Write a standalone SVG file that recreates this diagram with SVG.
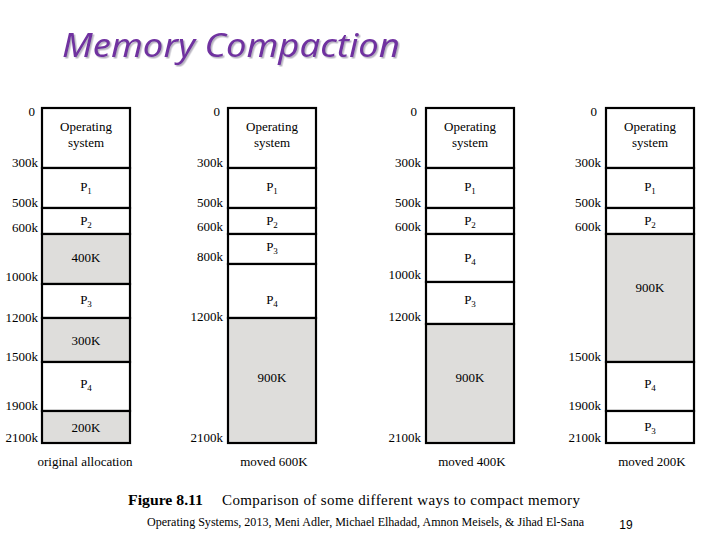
<svg xmlns="http://www.w3.org/2000/svg" width="720" height="540" viewBox="0 0 720 540">
<defs>
<filter id="shadow" x="-5%" y="-20%" width="110%" height="150%">
<feDropShadow dx="1.5" dy="1.5" stdDeviation="0.6" flood-color="#9a94a6" flood-opacity="0.7"/>
</filter>
</defs>
<style>
.t{font-family:"Liberation Serif","Times New Roman",serif;font-size:13px;fill:#000}
.m{text-anchor:middle}
.e{text-anchor:end}
.sub{font-size:9px}
.blk{stroke:#000;stroke-width:2.2;fill:#fff}
.free{stroke:#000;stroke-width:2.2;fill:#dedddb}
.title{font-family:"Noto Sans","Open Sans",sans-serif;font-style:italic;font-size:33px}
</style>
<rect width="720" height="540" fill="#fff"/>
<g id="title">
<text class="title" x="62" y="57" fill="#7030a0" filter="url(#shadow)" textLength="338" lengthAdjust="spacingAndGlyphs">Memory Compaction</text>
</g>

<!-- Column 1: original allocation -->
<g id="col1">
<g id="c1-os"><rect class="blk" x="42" y="108" width="88" height="60"/><text class="t m" x="86" y="131">Operating</text><text class="t m" x="86" y="147">system</text></g>
<g id="c1-p1"><rect class="blk" x="42" y="168" width="88" height="40"/><text class="t m" x="86" y="191">P<tspan class="sub" dy="3">1</tspan></text></g>
<g id="c1-p2"><rect class="blk" x="42" y="208" width="88" height="26"/><text class="t m" x="86" y="225">P<tspan class="sub" dy="3">2</tspan></text></g>
<g id="c1-h1"><rect class="free" x="42" y="234" width="88" height="50"/><text class="t m" x="86" y="262">400K</text></g>
<g id="c1-p3"><rect class="blk" x="42" y="284" width="88" height="34"/><text class="t m" x="86" y="304">P<tspan class="sub" dy="3">3</tspan></text></g>
<g id="c1-h2"><rect class="free" x="42" y="318" width="88" height="44"/><text class="t m" x="86" y="345">300K</text></g>
<g id="c1-p4"><rect class="blk" x="42" y="362" width="88" height="49"/><text class="t m" x="86" y="388">P<tspan class="sub" dy="3">4</tspan></text></g>
<g id="c1-h3"><rect class="free" x="42" y="411" width="88" height="32"/><text class="t m" x="86" y="432">200K</text></g>
<text class="t e" x="35" y="116">0</text>
<text class="t e" x="38" y="167">300k</text>
<text class="t e" x="38" y="207">500k</text>
<text class="t e" x="38" y="232">600k</text>
<text class="t e" x="38" y="281">1000k</text>
<text class="t e" x="38" y="322">1200k</text>
<text class="t e" x="38" y="361">1500k</text>
<text class="t e" x="38" y="410">1900k</text>
<text class="t e" x="38" y="442">2100k</text>
<text class="t m" x="85" y="466">original allocation</text>
</g>

<!-- Column 2: moved 600K -->
<g id="col2">
<g id="c2-os"><rect class="blk" x="228" y="108" width="88" height="60"/><text class="t m" x="272" y="131">Operating</text><text class="t m" x="272" y="147">system</text></g>
<g id="c2-p1"><rect class="blk" x="228" y="168" width="88" height="40"/><text class="t m" x="272" y="191">P<tspan class="sub" dy="3">1</tspan></text></g>
<g id="c2-p2"><rect class="blk" x="228" y="208" width="88" height="26"/><text class="t m" x="272" y="225">P<tspan class="sub" dy="3">2</tspan></text></g>
<g id="c2-p3"><rect class="blk" x="228" y="234" width="88" height="30"/><text class="t m" x="272" y="251">P<tspan class="sub" dy="3">3</tspan></text></g>
<g id="c2-p4"><rect class="blk" x="228" y="264" width="88" height="54"/><text class="t m" x="272" y="304">P<tspan class="sub" dy="3">4</tspan></text></g>
<g id="c2-h"><rect class="free" x="228" y="318" width="88" height="125"/><text class="t m" x="272" y="382">900K</text></g>
<text class="t e" x="220" y="116">0</text>
<text class="t e" x="223" y="167">300k</text>
<text class="t e" x="223" y="207">500k</text>
<text class="t e" x="223" y="231">600k</text>
<text class="t e" x="223" y="261">800k</text>
<text class="t e" x="223" y="321">1200k</text>
<text class="t e" x="223" y="442">2100k</text>
<text class="t m" x="274" y="466">moved 600K</text>
</g>

<!-- Column 3: moved 400K -->
<g id="col3">
<g id="c3-os"><rect class="blk" x="426" y="108" width="88" height="60"/><text class="t m" x="470" y="131">Operating</text><text class="t m" x="470" y="147">system</text></g>
<g id="c3-p1"><rect class="blk" x="426" y="168" width="88" height="40"/><text class="t m" x="470" y="191">P<tspan class="sub" dy="3">1</tspan></text></g>
<g id="c3-p2"><rect class="blk" x="426" y="208" width="88" height="26"/><text class="t m" x="470" y="225">P<tspan class="sub" dy="3">2</tspan></text></g>
<g id="c3-p4"><rect class="blk" x="426" y="234" width="88" height="48"/><text class="t m" x="470" y="262">P<tspan class="sub" dy="3">4</tspan></text></g>
<g id="c3-p3"><rect class="blk" x="426" y="282" width="88" height="42"/><text class="t m" x="470" y="304">P<tspan class="sub" dy="3">3</tspan></text></g>
<g id="c3-h"><rect class="free" x="426" y="324" width="88" height="119"/><text class="t m" x="470" y="382">900K</text></g>
<text class="t e" x="417" y="116">0</text>
<text class="t e" x="421" y="167">300k</text>
<text class="t e" x="421" y="207">500k</text>
<text class="t e" x="421" y="231">600k</text>
<text class="t e" x="421" y="279">1000k</text>
<text class="t e" x="421" y="321">1200k</text>
<text class="t e" x="421" y="442">2100k</text>
<text class="t m" x="472" y="466">moved 400K</text>
</g>

<!-- Column 4: moved 200K -->
<g id="col4">
<g id="c4-os"><rect class="blk" x="606" y="108" width="88" height="60"/><text class="t m" x="650" y="131">Operating</text><text class="t m" x="650" y="147">system</text></g>
<g id="c4-p1"><rect class="blk" x="606" y="168" width="88" height="40"/><text class="t m" x="650" y="191">P<tspan class="sub" dy="3">1</tspan></text></g>
<g id="c4-p2"><rect class="blk" x="606" y="208" width="88" height="26"/><text class="t m" x="650" y="225">P<tspan class="sub" dy="3">2</tspan></text></g>
<g id="c4-h"><rect class="free" x="606" y="234" width="88" height="128"/><text class="t m" x="650" y="292">900K</text></g>
<g id="c4-p4"><rect class="blk" x="606" y="362" width="88" height="49"/><text class="t m" x="650" y="388">P<tspan class="sub" dy="3">4</tspan></text></g>
<g id="c4-p3"><rect class="blk" x="606" y="411" width="88" height="32"/><text class="t m" x="650" y="431">P<tspan class="sub" dy="3">3</tspan></text></g>
<text class="t e" x="597" y="116">0</text>
<text class="t e" x="601" y="167">300k</text>
<text class="t e" x="601" y="207">500k</text>
<text class="t e" x="601" y="231">600k</text>
<text class="t e" x="601" y="361">1500k</text>
<text class="t e" x="601" y="410">1900k</text>
<text class="t e" x="601" y="442">2100k</text>
<text class="t m" x="652" y="466">moved 200K</text>
</g>

<g id="connectors"/>

<g id="caption">
<text x="128" y="505" style="font-family:'Liberation Serif','Times New Roman',serif;font-size:15px;font-weight:bold" textLength="75" lengthAdjust="spacingAndGlyphs">Figure 8.11</text>
<text x="222" y="505" style="font-family:'Liberation Serif','Times New Roman',serif;font-size:15px" textLength="358" lengthAdjust="spacing">Comparison of some different ways to compact memory</text>
<text x="147" y="526" style="font-family:'Liberation Serif','Times New Roman',serif;font-size:12px" textLength="437" lengthAdjust="spacingAndGlyphs">Operating Systems, 2013, Meni Adler, Michael Elhadad, Amnon Meisels, &amp; Jihad El-Sana</text>
<text x="626" y="529" text-anchor="middle" style="font-family:'Liberation Sans',Arial,sans-serif;font-size:12px">19</text>
</g>
</svg>
